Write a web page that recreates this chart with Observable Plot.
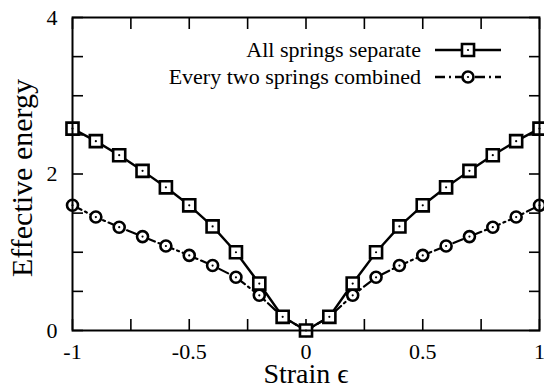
<!DOCTYPE html>
<html>
<head>
<meta charset="utf-8">
<script src="https://cdn.jsdelivr.net/npm/d3@7"></script>
<script src="https://cdn.jsdelivr.net/npm/@observablehq/plot@0.6"></script>
<style>
  html, body { margin: 0; padding: 0; background: #fff; }
  #chart { position: relative; width: 544px; height: 386px; }
  svg { display: block; }
  #chart svg text { font-family: "Liberation Serif", "Times New Roman", Tinos, serif; }
  #preload { position: absolute; left: 0; top: 0; font-family: "Liberation Serif", serif; font-size: 22px; color: transparent; }
</style>
</head>
<body>
<span id="preload">&nbsp;</span>
<div id="chart"></div>
<script>
// Strain values
const strain = [-1, -0.9, -0.8, -0.7, -0.6, -0.5, -0.4, -0.3, -0.2, -0.1, 0,
                0.1, 0.2, 0.3, 0.4, 0.5, 0.6, 0.7, 0.8, 0.9, 1];
// Series: all springs separate
const separate = [2.58, 2.42, 2.24, 2.04, 1.83, 1.60, 1.33, 1.00, 0.60, 0.175, 0,
                  0.175, 0.60, 1.00, 1.33, 1.60, 1.83, 2.04, 2.24, 2.42, 2.58];
// Series: every two springs combined
const combined = [1.60, 1.45, 1.32, 1.20, 1.08, 0.96, 0.83, 0.68, 0.45, 0.175, 0,
                  0.175, 0.45, 0.68, 0.83, 0.96, 1.08, 1.20, 1.32, 1.45, 1.60];
const seriesNames = ["All springs separate", "Every two springs combined"];
const xTicks = [-1, -0.75, -0.5, -0.25, 0, 0.25, 0.5, 0.75, 1];
const xTickLabels = [-1, -0.5, 0, 0.5, 1];
const yTicks = [0, 0.5, 1, 1.5, 2, 2.5, 3, 3.5, 4];
const yTickLabels = [0, 2, 4];
const xLabel = "Strain \u03F5";
const yLabel = "Effective energy";

const sepData = strain.map((x, i) => ({x, y: separate[i]}));
const comData = strain.map((x, i) => ({x, y: combined[i]}));

const FONT = "Liberation Serif";
const DASH = "10,4,2,4";

const plot = Plot.plot({
  width: 544,
  height: 386,
  marginLeft: 72,
  marginRight: 5,
  marginTop: 17,
  marginBottom: 56,
  x: {domain: [-1, 1]},
  y: {domain: [0, 4]},
  marks: [
    // inward ticks on all four sides
    Plot.axisX(xTicks, {anchor: "bottom", tickSize: -11, strokeWidth: 1.6, text: null, label: null}),
    Plot.axisX(xTicks, {anchor: "top", tickSize: -11, strokeWidth: 1.6, text: null, label: null}),
    Plot.axisY(yTicks, {anchor: "left", tickSize: -11, strokeWidth: 1.6, text: null, label: null}),
    Plot.axisY(yTicks, {anchor: "right", tickSize: -11, strokeWidth: 1.6, text: null, label: null}),
    // tick labels
    Plot.axisX(xTickLabels, {anchor: "bottom", tickSize: 0, tickPadding: 13, fontSize: 22, fontFamily: FONT, fill: "#000", tickFormat: d => String(d), label: null}),
    Plot.axisY(yTickLabels, {anchor: "left", tickSize: 0, tickPadding: 15, fontSize: 22, fontFamily: FONT, fill: "#000", tickFormat: d => String(d), label: null}),
    // axis titles
    Plot.text([xLabel], {text: d => d, frameAnchor: "bottom", dy: 52, lineAnchor: "bottom", textAnchor: "middle", fontSize: 28, fontFamily: FONT, fill: "#000"}),
    Plot.text([yLabel], {text: d => d, frameAnchor: "left", dx: -41, dy: 4, rotate: -90, lineAnchor: "bottom", textAnchor: "middle", fontSize: 30, fontFamily: FONT, fill: "#000"}),
    // series
    Plot.line(comData, {x: "x", y: "y", stroke: "#000", strokeWidth: 2.2, strokeDasharray: DASH}),
    Plot.line(sepData, {x: "x", y: "y", stroke: "#000", strokeWidth: 2.4}),
    Plot.dot(comData, {x: "x", y: "y", r: 5.5, symbol: "circle", fill: "#fff", stroke: "#000", strokeWidth: 2.6}),
    Plot.dot(comData, {x: "x", y: "y", r: 1.1, fill: "#000"}),
    Plot.dot(sepData, {x: "x", y: "y", r: 6.8, symbol: "square", fill: "#fff", stroke: "#000", strokeWidth: 2.6}),
    Plot.dot(sepData, {x: "x", y: "y", r: 1.1, fill: "#000"}),
    Plot.frame({stroke: "#000", strokeWidth: 2})
  ]
});

// legend inside the plot area (top right)
const svgSel = d3.select(plot);
const lg = svgSel.append("g").attr("font-family", FONT).attr("font-size", 22);
const entries = [
  {name: seriesNames[0], y: 50, dash: null, sym: d3.symbolSquare, size: 6.8 * 6.8 * Math.PI},
  {name: seriesNames[1], y: 77, dash: DASH, sym: d3.symbolCircle, size: 5.5 * 5.5 * Math.PI}
];
entries.forEach(e => {
  lg.append("text").attr("x", 421).attr("y", e.y + 7).attr("text-anchor", "end").attr("fill", "#000").text(e.name);
  lg.append("line").attr("x1", 435).attr("x2", 501).attr("y1", e.y).attr("y2", e.y)
    .attr("stroke", "#000").attr("stroke-width", 2.4).attr("stroke-dasharray", e.dash);
  lg.append("path").attr("transform", `translate(468,${e.y})`).attr("d", d3.symbol(e.sym, e.size)())
    .attr("fill", "#fff").attr("stroke", "#000").attr("stroke-width", 2.6);
  lg.append("circle").attr("cx", 468).attr("cy", e.y).attr("r", 1.1).attr("fill", "#000");
});

document.getElementById("chart").appendChild(plot);
// force style and layout so the serif face is resolved before capture
plot.querySelectorAll("text").forEach(t => { getComputedStyle(t).fontFamily; t.getBBox(); });
</script>
</body>
</html>
